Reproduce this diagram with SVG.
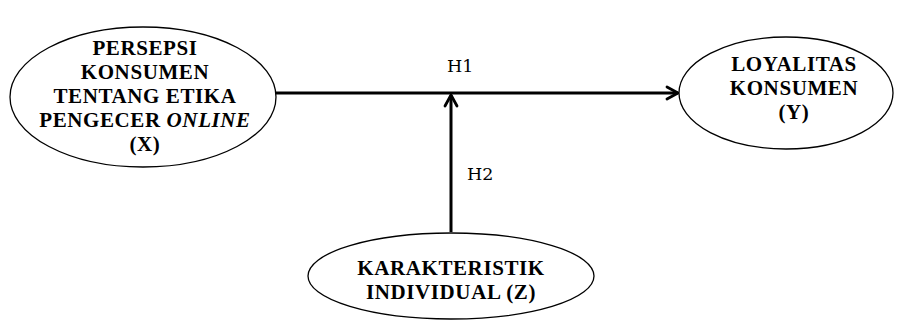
<svg xmlns="http://www.w3.org/2000/svg" width="898" height="320" viewBox="0 0 898 320">
  <style>
    .node { fill: #ffffff; stroke: #000000; stroke-width: 1.3; }
    .label { font-family: "Liberation Serif", "Times New Roman", serif; font-weight: bold; font-size: 21px; letter-spacing: 0.6px; fill: #000000; text-anchor: middle; }
    .hyp { font-family: "DejaVu Serif", "Liberation Serif", serif; font-size: 17.5px; fill: #000000; }
    .conn { fill: none; stroke: #000000; stroke-width: 3; }
  </style>
  <defs>
    <marker id="chevron-lg" viewBox="0 0 16 16" refX="14" refY="8" markerWidth="16" markerHeight="16" markerUnits="userSpaceOnUse" orient="auto">
      <polyline points="3,2 14,8 3,14" fill="none" stroke="#000000" stroke-width="2.8" stroke-linecap="round" stroke-linejoin="round"/>
    </marker>
  </defs>
  <rect width="898" height="320" fill="#ffffff"/>

  <g id="connectors">
    <line class="conn" x1="276" y1="93" x2="678" y2="93" marker-end="url(#chevron-lg)"/>
    <line class="conn" x1="451" y1="232" x2="451" y2="95" marker-end="url(#chevron-lg)"/>
    <text class="hyp" x="447" y="72">H1</text>
    <text class="hyp" x="467" y="180">H2</text>
  </g>

  <g id="node-x">
    <ellipse class="node" cx="143" cy="97" rx="133" ry="70"/>
    <text class="label" x="145" y="55">PERSEPSI</text>
    <text class="label" x="145" y="79">KONSUMEN</text>
    <text class="label" x="145" y="103">TENTANG ETIKA</text>
    <text class="label" x="145" y="127">PENGECER <tspan font-style="italic">ONLINE</tspan></text>
    <text class="label" x="145" y="151">(X)</text>
  </g>

  <g id="node-y">
    <ellipse class="node" cx="786" cy="93" rx="107" ry="56"/>
    <text class="label" x="794" y="71">LOYALITAS</text>
    <text class="label" x="794" y="95">KONSUMEN</text>
    <text class="label" x="794" y="119">(Y)</text>
  </g>

  <g id="node-z">
    <ellipse class="node" cx="451" cy="276" rx="143" ry="43"/>
    <text class="label" x="451" y="275">KARAKTERISTIK</text>
    <text class="label" x="451" y="299">INDIVIDUAL (Z)</text>
  </g>
</svg>
